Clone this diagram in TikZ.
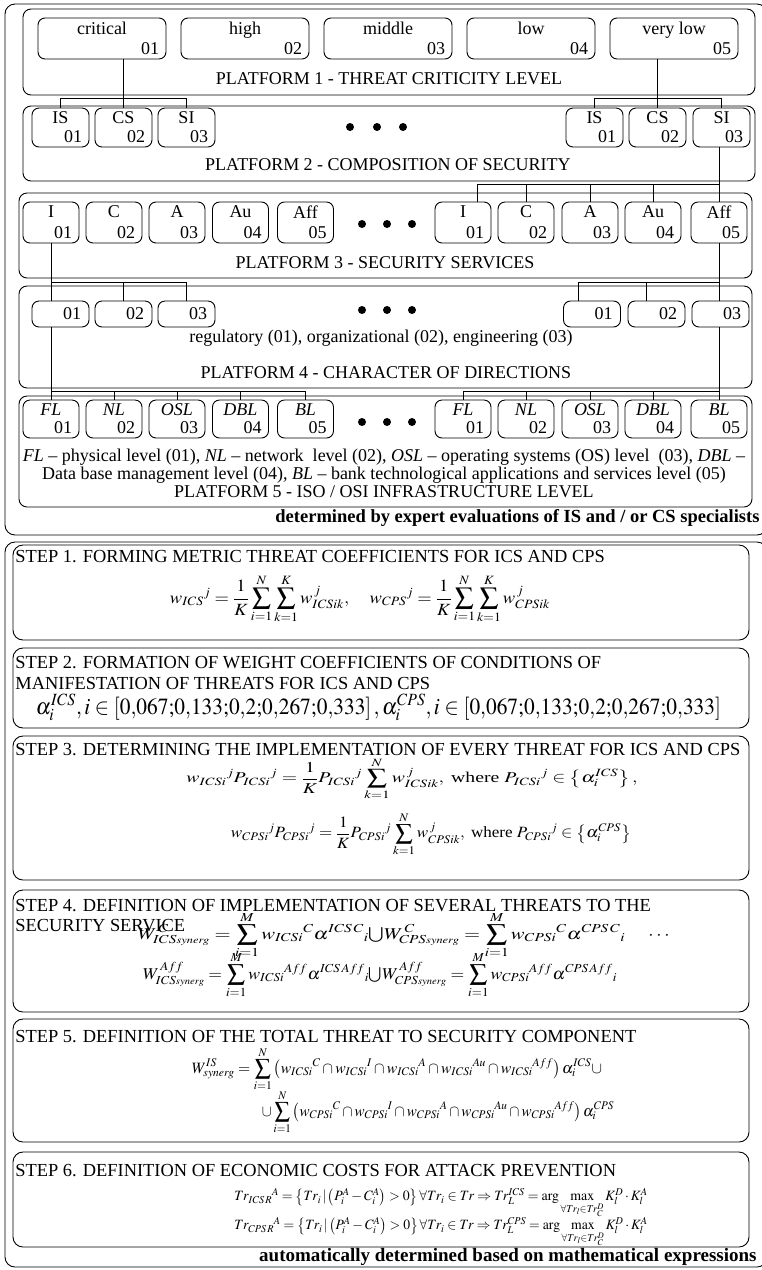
\documentclass[tikz,border=0pt]{standalone}
\usepackage{mathptmx}
\usepackage[no-math]{fontspec}
\setmainfont{Liberation Serif}
\usepackage{graphicx}
\usetikzlibrary{calc}

\newcommand{\fml}[3]{\resizebox*{#1pt}{#2pt}{$\displaystyle #3$}}

\tikzset{
  platform/.style={draw, rounded corners=8pt, inner sep=0pt},
  stepbox/.style={draw, rounded corners=10pt, inner sep=0pt, minimum width=736},
  lvl/.style 2 args={draw, rounded corners=7pt, inner sep=0pt,
    label={[anchor=north, inner sep=0pt, yshift=-4pt]north:#1},
    label={[anchor=south east, inner sep=0pt, xshift=-7pt, yshift=4pt]south east:#2}},
  dirbox/.style={draw, rounded corners=7pt, inner sep=0pt, minimum width=57, minimum height=26,
    label={[anchor=east, inner sep=0pt, xshift=-8pt]east:#1}},
  bigdot/.style={circle, fill, inner sep=0pt, minimum size=8},
  head/.style={anchor=west, inner sep=0pt, align=left, font=\fontsize{18.4}{21}\selectfont}
}

\begin{document}
\begin{tikzpicture}[x=1pt, y=-1pt, line width=0.9pt, font=\fontsize{18}{21}\selectfont]
\useasboundingbox (0,0) rectangle (761,1270);

% upper part: platforms
\node (outerA) [platform, rounded corners=10pt, minimum width=762, minimum height=531] at (386,269.5) {};
\node (plat1) [platform, minimum width=732, minimum height=86] at (389,52) {};
\node (plat2) [platform, minimum width=732, minimum height=75] at (389,143.5) {};
\node (plat3) [platform, minimum width=733, minimum height=85] at (385.5,235.5) {};
\node (plat4) [platform, minimum width=733, minimum height=102] at (385.5,337) {};
\node (plat5) [platform, minimum width=733, minimum height=111] at (385.5,451.5) {};

% platform 1
\node (crit) [lvl={critical}{01}, minimum width=128, minimum height=41] at (102,38.5) {};
\node (high) [lvl={high}{02}, minimum width=128, minimum height=41] at (245,38.5) {};
\node (mid) [lvl={middle}{03}, minimum width=128, minimum height=41] at (388,38.5) {};
\node (low) [lvl={low}{04}, minimum width=128, minimum height=41] at (531,38.5) {};
\node (vlow) [lvl={very low}{05}, minimum width=128, minimum height=41] at (674,38.5) {};
\node (lab1) at (389,79) {PLATFORM 1 - THREAT CRITICITY LEVEL};

% platform 2
\node (is1) [lvl={IS}{01}, minimum width=57, minimum height=39] at (60.5,127.5) {};
\node (cs1) [lvl={CS}{02}, minimum width=57, minimum height=39] at (123.5,127.5) {};
\node (si1) [lvl={SI}{03}, minimum width=57, minimum height=39] at (186.5,127.5) {};
\node (is2) [lvl={IS}{01}, minimum width=57, minimum height=39] at (594.5,127.5) {};
\node (cs2) [lvl={CS}{02}, minimum width=57, minimum height=39] at (657.5,127.5) {};
\node (si2) [lvl={SI}{03}, minimum width=57, minimum height=39] at (721.5,127.5) {};
\node (dot2a) [bigdot] at (350,127) {};
\node (dot2b) [bigdot] at (377,127) {};
\node (dot2c) [bigdot] at (403,127) {};
\node (lab2) at (388,165) {PLATFORM 2 - COMPOSITION OF SECURITY};

% platform 3
\node (i1) [lvl={I}{01}, minimum width=56, minimum height=41] at (51,222.5) {};
\node (c1) [lvl={C}{02}, minimum width=56, minimum height=41] at (114,222.5) {};
\node (a1) [lvl={A}{03}, minimum width=56, minimum height=41] at (177,222.5) {};
\node (au1) [lvl={Au}{04}, minimum width=56, minimum height=41] at (240.5,222.5) {};
\node (aff1) [lvl={Aff}{05}, minimum width=56, minimum height=41] at (305.5,222.5) {};
\node (i2) [lvl={I}{01}, minimum width=56, minimum height=41] at (463,222.5) {};
\node (c2) [lvl={C}{02}, minimum width=56, minimum height=41] at (526,222.5) {};
\node (a2) [lvl={A}{03}, minimum width=56, minimum height=41] at (590,222.5) {};
\node (au2) [lvl={Au}{04}, minimum width=56, minimum height=41] at (653,222.5) {};
\node (aff2) [lvl={Aff}{05}, minimum width=56, minimum height=41] at (719,222.5) {};
\node (dot3a) [bigdot] at (362,224) {};
\node (dot3b) [bigdot] at (387,224) {};
\node (dot3c) [bigdot] at (412,224) {};
\node (lab3) at (385,263) {PLATFORM 3 - SECURITY SERVICES};

% platform 4
\node (reg1) [dirbox={01}] at (60.5,314) {};
\node (org1) [dirbox={02}] at (123.5,314) {};
\node (eng1) [dirbox={03}] at (186.5,314) {};
\node (reg2) [dirbox={01}] at (592,314) {};
\node (org2) [dirbox={02}] at (656.5,314) {};
\node (eng2) [dirbox={03}] at (720.5,314) {};
\node (dot4a) [bigdot] at (362,310) {};
\node (dot4b) [bigdot] at (387,310) {};
\node (dot4c) [bigdot] at (412,310) {};
\node (dirs) at (381,338) {regulatory (01), organizational (02), engineering (03)};
\node (lab4) at (386,373) {PLATFORM 4 - CHARACTER OF DIRECTIONS};

% platform 5
\node (fl1) [lvl={\itshape FL}{01}, minimum width=56, minimum height=38] at (51,419) {};
\node (nl1) [lvl={\itshape NL}{02}, minimum width=56, minimum height=38] at (114,419) {};
\node (osl1) [lvl={\itshape OSL}{03}, minimum width=56, minimum height=38] at (177,419) {};
\node (dbl1) [lvl={\itshape DBL}{04}, minimum width=56, minimum height=38] at (240.5,419) {};
\node (bl1) [lvl={\itshape BL}{05}, minimum width=56, minimum height=38] at (305.5,419) {};
\node (fl2) [lvl={\itshape FL}{01}, minimum width=56, minimum height=38] at (463,419) {};
\node (nl2) [lvl={\itshape NL}{02}, minimum width=56, minimum height=38] at (526,419) {};
\node (osl2) [lvl={\itshape OSL}{03}, minimum width=56, minimum height=38] at (590,419) {};
\node (dbl2) [lvl={\itshape DBL}{04}, minimum width=56, minimum height=38] at (653,419) {};
\node (bl2) [lvl={\itshape BL}{05}, minimum width=56, minimum height=38] at (719,419) {};
\node (dot5a) [bigdot] at (362,422) {};
\node (dot5b) [bigdot] at (387,422) {};
\node (dot5c) [bigdot] at (412,422) {};
\node (lab5) [align=center, font=\fontsize{18}{18}\selectfont] at (384,473) {\textit{FL} -- physical level (01), \textit{NL} -- network~ level (02), \textit{OSL} -- operating systems (OS) level~ (03), \textit{DBL} --\\
Data base management level (04), \textit{BL} -- bank technological applications and services level (05)\\
PLATFORM 5 - ISO / OSI INFRASTRUCTURE LEVEL};
\node (expert) [anchor=east, inner sep=0pt, font=\fontsize{18.5}{21}\selectfont\bfseries] at (760,518) {determined by expert evaluations of IS and / or CS specialists};

% connectors between platforms
\draw (crit.south -| cs1.north) -- (cs1.north);
\draw (is1.north) -- ++(0,-9) -| (si1.north);
\draw (vlow.south -| cs2.north) -- (cs2.north);
\draw (is2.north) -- ++(0,-9) -| (si2.north);
\draw (si2.south -| aff2.north) -- (aff2.north);
\draw ([xshift=14pt]i2.north) -- ++(0,-17) -| (aff2.north);
\draw (c2.north) -- ++(0,-17);
\draw (a2.north) -- ++(0,-17);
\draw (au2.north) -- ++(0,-17);
\draw (i1.south) -- (i1.south |- reg1.north);
\draw (i1.south |- reg1.north) -- ++(0,-18) -| (eng1.north);
\draw (org1.north) -- ++(0,-18);
\draw (aff2.south) -- (aff2.south |- eng2.north);
\draw ([xshift=-14pt]reg2.north) -- ++(0,-18) -| (aff2.south |- eng2.north);
\draw ([xshift=-10pt]org2.north) -- ++(0,-18);
\draw (reg1.south -| fl1.north) -- (fl1.north);
\draw (fl1.north) -- ++(0,-8) -| (bl1.north);
\draw (nl1.north) -- ++(0,-8);
\draw (osl1.north) -- ++(0,-8);
\draw (dbl1.north) -- ++(0,-8);
\draw (eng2.south -| bl2.north) -- (bl2.north);
\draw (fl2.north) -- ++(0,-8) -| (bl2.north);
\draw (nl2.north) -- ++(0,-8);
\draw (osl2.north) -- ++(0,-8);
\draw (dbl2.north) -- ++(0,-8);

% lower part: steps
\node (outerB) [platform, rounded corners=10pt, minimum width=762, minimum height=725] at (386,904.5) {};
\node (step1) [stepbox, minimum height=95] at (381,592.5) {};
\node (step2) [stepbox, minimum height=80] at (381,688) {};
\node (step3) [stepbox, minimum height=144] at (381,808) {};
\node (step4) [stepbox, minimum height=122] at (381,951) {};
\node (step5) [stepbox, minimum height=123] at (381,1080.5) {};
\node (step6) [stepbox, minimum height=95] at (381,1199.5) {};

\node (head1) [head] at (15,557) {STEP 1. FORMING METRIC THREAT COEFFICIENTS FOR ICS AND CPS};
\node (form1) at (360,599) {\fml{380}{48}{w_{ICS}{}^{j}=\frac{1}{K}\sum_{i=1}^{N}\sum_{k=1}^{K}w_{ICSik}^{\,j},\quad w_{CPS}{}^{j}=\frac{1}{K}\sum_{i=1}^{N}\sum_{k=1}^{K}w_{CPSik}^{\,j}}};

\node (head2) [head] at (15,673) {STEP 2. FORMATION OF WEIGHT COEFFICIENTS OF CONDITIONS OF\\ MANIFESTATION OF THREATS FOR ICS AND CPS};
\node (form2) at (378.5,707) {\fml{685}{27}{\alpha_i^{ICS},i\in\left[0{,}067{;}0{,}133{;}0{,}2{;}0{,}267{;}0{,}333\right],\alpha_i^{CPS},i\in\left[0{,}067{;}0{,}133{;}0{,}2{;}0{,}267{;}0{,}333\right]}};

\node (head3) [head] at (15,750) {STEP 3. DETERMINING THE IMPLEMENTATION OF EVERY THREAT FOR ICS AND CPS};
\node (form3a) at (412,779) {\fml{451}{42}{w_{ICSi}{}^{j}P_{ICSi}{}^{j}=\frac{1}{K}P_{ICSi}{}^{j}\sum_{k=1}^{N}w_{ICSik}^{\,j},\mbox{ where }P_{ICSi}{}^{j}\in\left\{\alpha_i^{ICS}\right\},}};
\node (form3b) at (431,834) {\fml{400}{44}{w_{CPSi}{}^{j}P_{CPSi}{}^{j}=\frac{1}{K}P_{CPSi}{}^{j}\sum_{k=1}^{N}w_{CPSik}^{\,j},\mbox{ where }P_{CPSi}{}^{j}\in\left\{\alpha_i^{CPS}\right\}}};

\node (head4) [head, font=\fontsize{18.4}{20}\selectfont] at (15,916) {STEP 4. DEFINITION OF IMPLEMENTATION OF SEVERAL THREATS TO THE\\ SECURITY SERVICE};
\node (form4a) at (404,935) {\fml{532}{46}{W_{ICS\scriptscriptstyle synerg}^{\,C}=\sum_{i=1}^{M}w_{ICSi}{}^{C}\alpha^{ICS\,C}{}_{i}{\textstyle\bigcup}W_{CPS\scriptscriptstyle synerg}^{\,C}=\sum_{i=1}^{M}w_{CPSi}{}^{C}\alpha^{CPS\,C}{}_{i}\quad\cdots}};
\node (form4b) at (380,975) {\fml{474}{46}{W_{ICS\scriptscriptstyle synerg}^{\,Aff}=\sum_{i=1}^{M}w_{ICSi}{}^{Aff}\alpha^{ICS\,Aff}{}_{i}{\textstyle\bigcup}W_{CPS\scriptscriptstyle synerg}^{\,Aff}=\sum_{i=1}^{M}w_{CPSi}{}^{Aff}\alpha^{CPS\,Aff}{}_{i}}};

\node (head5) [head] at (15,1037) {STEP 5. DEFINITION OF THE TOTAL THREAT TO SECURITY COMPONENT};
\node (form5a) at (397,1069) {\fml{410}{44}{W_{synerg}^{IS}=\sum_{i=1}^{N}\left(w_{ICSi}{}^{C}\cap w_{ICSi}{}^{I}\cap w_{ICSi}{}^{A}\cap w_{ICSi}{}^{Au}\cap w_{ICSi}{}^{Aff}\right)\alpha_i^{ICS}\cup}};
\node (form5b) at (438,1112) {\fml{352}{44}{\cup\sum_{i=1}^{N}\left(w_{CPSi}{}^{C}\cap w_{CPSi}{}^{I}\cap w_{CPSi}{}^{A}\cap w_{CPSi}{}^{Au}\cap w_{CPSi}{}^{Aff}\right)\alpha_i^{CPS}}};

\node (head6) [head] at (15,1171) {STEP 6. DEFINITION OF ECONOMIC COSTS FOR ATTACK PREVENTION};
\node (form6a) at (441,1203) {\fml{413}{30}{Tr_{ICS\,R}{}^{A}=\left\{Tr_i\,|\left(P_i^A-C_i^A\right)>0\right\}\forall Tr_i\in Tr\Rightarrow Tr_L^{ICS}=\arg\max\limits_{\forall Tr_l\in Tr_C^D}K_l^D\cdot K_l^A}};
\node (form6b) at (441,1232) {\fml{413}{30}{Tr_{CPS\,R}{}^{A}=\left\{Tr_i\,|\left(P_i^A-C_i^A\right)>0\right\}\forall Tr_i\in Tr\Rightarrow Tr_L^{CPS}=\arg\max\limits_{\forall Tr_l\in Tr_C^D}K_l^D\cdot K_l^A}};

\node (auto) [anchor=east, inner sep=0pt, font=\fontsize{19}{21}\selectfont\bfseries] at (757,1257) {automatically determined based on mathematical expressions};
\end{tikzpicture}
\end{document}
